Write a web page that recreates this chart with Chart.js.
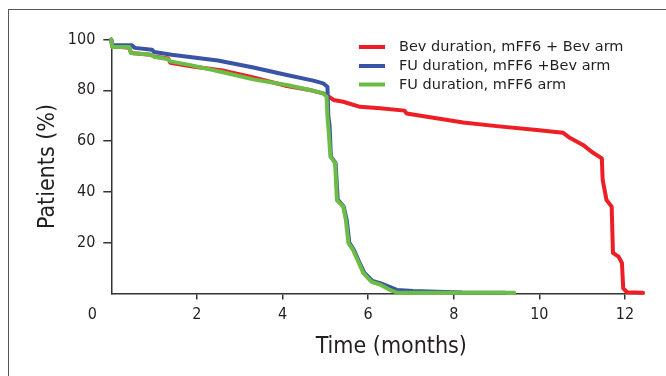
<!DOCTYPE html>
<html>
<head>
<meta charset="utf-8">
<script src="https://cdn.jsdelivr.net/npm/chart.js@4.4.1/dist/chart.umd.min.js"></script>
<style>
  html, body { margin: 0; padding: 0; background: #fff; }
  #wrap { position: relative; width: 666px; height: 376px; overflow: hidden; }
  #frame { position: absolute; left: 8px; top: 9px; width: 700px; height: 400px;
           border-top: 1.5px solid #555; border-left: 1.5px solid #555; }
  canvas { position: absolute; left: 0; top: 0; }
</style>
</head>
<body>
<div id="wrap">
  <div id="frame"></div>
  <canvas id="myChart" width="666" height="376"></canvas>
</div>
<script>
// Bev duration, mFF6 + Bev arm
const bevTimes = [0, 0.02, 0.42, 0.46, 0.92, 1.0, 1.33, 1.38, 1.9, 2.6, 3.32, 4.1, 4.64, 4.95, 5.03, 5.19, 5.42, 5.81, 6.28, 6.85, 6.9, 7.45, 8.22, 9.0, 9.94, 10.55, 10.72, 11.02, 11.22, 11.46, 11.48, 11.57, 11.69, 11.72, 11.85, 11.93, 11.96, 12.05, 12.42];
const bevValues = [100, 97.3, 96.7, 94.7, 94.0, 93.3, 92.5, 90.8, 89.4, 87.8, 85.1, 81.7, 80.1, 78.8, 78.1, 76.2, 75.5, 73.5, 72.9, 72.0, 70.9, 69.4, 67.3, 65.9, 64.4, 63.3, 61.2, 58.5, 55.8, 53.2, 44.7, 36.8, 34.2, 16, 14.5, 12, 2, 0.5, 0.3];

// FU duration, mFF6 + Bev arm
const fuBevTimes = [0, 0.02, 0.48, 0.55, 0.95, 1.0, 1.41, 1.88, 2.49, 3.32, 4.1, 4.72, 4.95, 5.05, 5.07, 5.1, 5.13, 5.24, 5.29, 5.43, 5.5, 5.56, 5.67, 5.79, 5.91, 6.1, 6.3, 6.67, 7.05, 8.2, 9.2];
const fuBevValues = [100, 97.7, 97.7, 96.7, 96.0, 95.1, 94.0, 93.0, 91.7, 89.0, 86.0, 83.8, 82.7, 81.4, 70, 66, 54, 51.3, 37, 34.2, 29, 20, 17.1, 12.5, 8.2, 5.0, 4.0, 1.4, 1.0, 0.4, 0.3];

// FU duration, mFF6 arm
const fuTimes = [0, 0.02, 0.42, 0.46, 0.94, 1.0, 1.33, 1.38, 1.88, 2.58, 3.32, 4.1, 4.64, 4.95, 5.03, 5.05, 5.07, 5.12, 5.23, 5.27, 5.42, 5.48, 5.54, 5.65, 5.77, 5.89, 6.08, 6.28, 6.51, 6.68, 9.41];
const fuValues = [100, 97.0, 97.0, 94.7, 94.0, 93.2, 92.2, 91.4, 89.8, 87.2, 84.3, 82.1, 80.1, 78.8, 77.5, 69.6, 65.7, 53.9, 51.3, 36.8, 34.2, 28.9, 19.8, 17.1, 12.5, 8.0, 4.6, 3.5, 1.4, 0.3, 0.3];

const seriesLabels = ['Bev duration, mFF6 + Bev arm', 'FU duration, mFF6 +Bev arm', 'FU duration, mFF6 arm'];
const seriesColors = ['rgb(237,30,36)', 'rgb(57,84,164)', 'rgb(108,189,69)'];

const xTicks = [2, 4, 6, 8, 10, 12];
const yTicks = [20, 40, 60, 80, 100];

const condensed = "'DejaVu Sans Condensed', 'Liberation Sans Narrow', sans-serif";
const textColor = '#231f20';
const axisColor = '#333';

const toPoints = (xs, ys) => xs.map((x, i) => ({x: x, y: ys[i]}));

// legend, origin "0" and x title drawn on the canvas
const extras = {
  id: 'extras',
  afterDraw(chart) {
    const ctx = chart.ctx;
    const area = chart.chartArea;
    const xs = chart.scales.x;
    ctx.save();
    ctx.fillStyle = textColor;
    ctx.textBaseline = 'middle';
    ctx.textAlign = 'center';
    ctx.font = "16px " + condensed;
    ctx.fillText('0', xs.getPixelForValue(0) - 19, xs.top + 21.5);
    ctx.font = "23px " + condensed;
    ctx.fillText('Time (months)', area.left + 280, 347);

    // legend
    ctx.textAlign = 'left';
    ctx.font = "14.5px 'DejaVu Sans', sans-serif";
    const rows = [47, 66, 84.5];
    seriesLabels.forEach((lbl, i) => {
      ctx.strokeStyle = seriesColors[i];
      ctx.lineWidth = 4;
      ctx.beginPath();
      ctx.moveTo(359, rows[i]);
      ctx.lineTo(385, rows[i]);
      ctx.stroke();
      ctx.fillText(lbl, 399, rows[i] + 0.5);
    });
    ctx.restore();
  }
};

const mkSet = (i, xs, ys, order) => ({
  label: seriesLabels[i],
  data: toPoints(xs, ys),
  borderColor: seriesColors[i],
  backgroundColor: seriesColors[i],
  borderWidth: 4,
  borderJoinStyle: 'round',
  borderCapStyle: 'round',
  pointRadius: 0,
  tension: 0,
  fill: false,
  order: order,
  clip: false
});

const ctx = document.getElementById('myChart');
const myChart = new Chart(ctx, {
  type: 'line',
  data: {
    datasets: [
      mkSet(0, bevTimes, bevValues, 3),
      mkSet(1, fuBevTimes, fuBevValues, 2),
      mkSet(2, fuTimes, fuValues, 1)
    ]
  },
  options: {
    responsive: false,
    animation: false,
    devicePixelRatio: 1,
    layout: { padding: { left: 0, right: 21.8, top: 39.5, bottom: 0 } },
    plugins: { legend: { display: false }, tooltip: { enabled: false } },
    scales: {
      x: {
        type: 'linear',
        min: 0,
        max: 12.45,
        afterBuildTicks: (scale) => { scale.ticks = xTicks.map(v => ({value: v})); },
        afterFit: (scale) => { scale.height = 82.5; },
        ticks: { color: textColor, font: { family: condensed, size: 16 }, padding: 6, maxRotation: 0, autoSkip: false },
        grid: { display: true, drawOnChartArea: false, drawTicks: true, tickLength: 6, color: axisColor, lineWidth: 1.5 },
        border: { display: true, color: axisColor, width: 1.5 }
      },
      y: {
        type: 'linear',
        min: 0,
        max: 100,
        afterBuildTicks: (scale) => { scale.ticks = yTicks.map(v => ({value: v})); },
        afterFit: (scale) => { scale.width = 111.3; },
        ticks: { color: textColor, font: { family: condensed, size: 16 }, padding: 8, autoSkip: false },
        grid: { display: true, drawOnChartArea: false, drawTicks: true, tickLength: 8, color: axisColor, lineWidth: 1.5 },
        border: { display: true, color: axisColor, width: 1.5 },
        title: { display: true, text: 'Patients (%)', color: textColor, font: { family: condensed, size: 23 }, padding: { top: 34, bottom: 0 } }
      }
    }
  },
  plugins: [extras]
});
</script>
</body>
</html>
